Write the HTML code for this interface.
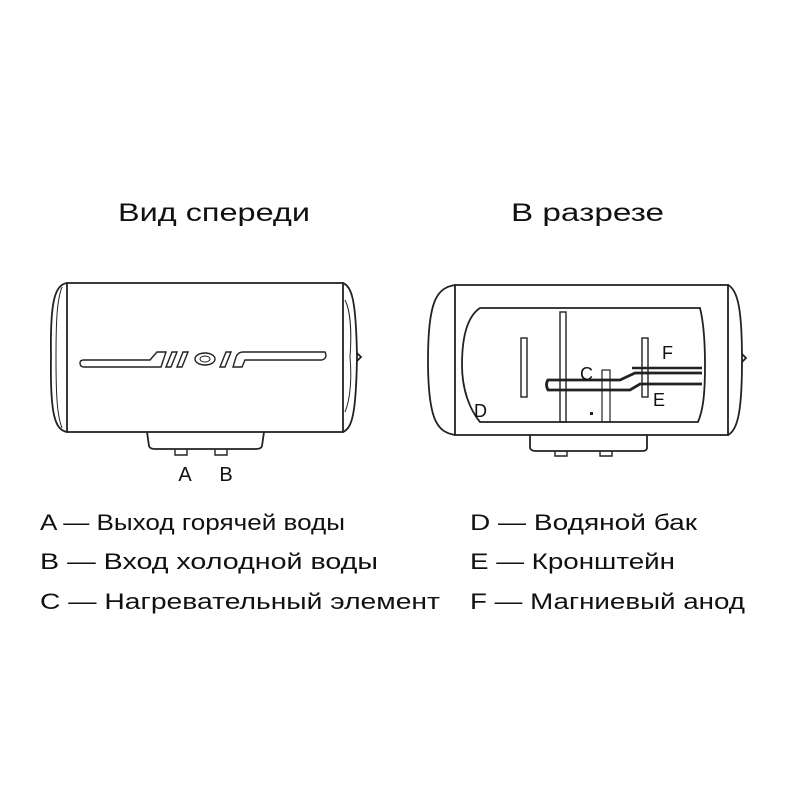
<!DOCTYPE html>
<html><head><meta charset="utf-8"><style>
body{margin:0;background:#fff}
svg{display:block}
text{font-family:"Liberation Sans",sans-serif;fill:#111}
</style></head><body>
<svg width="800" height="800" viewBox="0 0 800 800" xmlns="http://www.w3.org/2000/svg">
<g stroke="#222" stroke-width="1.8" fill="none">
<!-- front view -->
<rect x="67" y="283" width="276" height="149"/>
<path d="M67 283 C55 285 50 300 51 357 C50 415 55 430 67 432"/>
<path d="M62 287 C57 300 56 320 56 357 C56 395 57 415 62 428" stroke-width="1"/>
<path d="M343 283 C352 287 356 300 357 357 C356 415 352 428 343 432"/>
<path d="M345 300 C350 310 352 330 350 357 C352 380 350 400 345 412" stroke-width="1"/>
<path d="M357 353 l4 4 l-4 4"/>
<path d="M147 432 L149 446 Q150 449 155 449 L256 449 Q261 449 262 446 L264 432"/>
<path d="M175 449 v6 h12 v-6 M215 449 v6 h12 v-6" stroke-width="1.4"/>
<g stroke-width="1.4">
<path d="M80 363 Q80 367 84 367 L161 367 L166 352 L157 352 L150 360 L84 360 Q80 360 80 363 Z"/>
<path d="M172 352 L177 352 L171 367 L166 367 Z M183 352 L188 352 L182 367 L177 367 Z"/>
<ellipse cx="205" cy="359" rx="10" ry="6"/>
<ellipse cx="205" cy="359" rx="5" ry="3" stroke-width="1"/>
<path d="M226 352 L231 352 L225 367 L220 367 Z"/>
<path d="M233 367 L242 367 L245 360 L322 360 Q328 358 325 352 L243 352 Q238 352 236 357 Z"/>
</g>
<!-- cross-section -->
<rect x="455" y="285" width="273" height="150"/>
<path d="M455 285 C437 288 428 300 428 360 C428 420 437 432 455 435"/>
<path d="M728 285 C738 290 742 310 742 360 C742 410 738 430 728 435"/>
<path d="M742 354 l4 4 l-4 4"/>
<path d="M480 308 L700 308 C703 320 705 340 705 365 C705 395 703 410 698 422 L480 422 C470 410 462 390 462 365 C462 335 468 316 480 308 Z"/>
<rect x="560" y="312" width="6" height="110" stroke-width="1.4"/>
<rect x="521" y="338" width="6" height="59" stroke-width="1.4"/>
<rect x="642" y="338" width="6" height="59" stroke-width="1.4"/>
<rect x="602" y="370" width="8" height="52" stroke-width="1.2"/>
<path d="M702 368 L632 368" stroke-width="2.5"/>
<path d="M702 384 L640 384 L630 390 L548 390 Q545 384 548 380 L620 380 L635 373 L702 373" stroke-width="2.8"/>
</g>
<g stroke="#222" stroke-width="1.8" fill="none">
<path d="M530 435 L530 448 Q531 451 536 451 L642 451 Q647 451 647 448 L647 435"/>
<path d="M555 451 v5 h12 v-5 M600 451 v5 h12 v-5" stroke-width="1.4"/>
</g>
<rect x="590" y="412" width="3" height="3" fill="#222"/>
<text x="118" y="221" font-size="25" textLength="192" lengthAdjust="spacingAndGlyphs">Вид спереди</text>
<text x="511" y="221" font-size="25" textLength="153" lengthAdjust="spacingAndGlyphs">В разрезе</text>
<text x="185" y="481" font-size="20" text-anchor="middle">A</text>
<text x="226" y="481" font-size="20" text-anchor="middle">B</text>
<text x="580" y="380" font-size="18">C</text>
<text x="662" y="359" font-size="18">F</text>
<text x="653" y="406" font-size="18">E</text>
<text x="474" y="417" font-size="18">D</text>
<g font-size="22">
<text x="40" y="530" textLength="305" lengthAdjust="spacingAndGlyphs">A — Выход горячей воды</text>
<text x="40" y="569" textLength="338" lengthAdjust="spacingAndGlyphs">B — Вход холодной воды</text>
<text x="40" y="609" textLength="400" lengthAdjust="spacingAndGlyphs">C — Нагревательный элемент</text>
<text x="470" y="530" textLength="227" lengthAdjust="spacingAndGlyphs">D — Водяной бак</text>
<text x="470" y="569" textLength="205" lengthAdjust="spacingAndGlyphs">E — Кронштейн</text>
<text x="470" y="609" textLength="275" lengthAdjust="spacingAndGlyphs">F — Магниевый анод</text>
</g>
</svg>
</body></html>
